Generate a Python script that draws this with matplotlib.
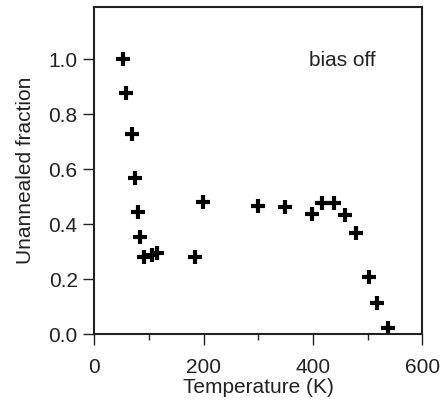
import matplotlib
matplotlib.use("Agg")
import matplotlib.pyplot as plt
from matplotlib.ticker import MultipleLocator

temperature = [53, 58, 69, 74, 79, 84, 90, 105, 114, 184, 199, 299, 349, 399, 416, 438, 459, 479, 503, 518, 538]
fraction = [1.0, 0.876, 0.728, 0.570, 0.445, 0.355, 0.282, 0.290, 0.297, 0.282, 0.48, 0.467, 0.464, 0.436, 0.477, 0.477, 0.434, 0.367, 0.207, 0.115, 0.022]

plt.rcParams['font.family'] = ['Liberation Sans', 'DejaVu Sans']

fig = plt.figure(figsize=(4.43, 4.03), dpi=100)
ax = fig.add_axes([0.213, 0.1705, 0.740, 0.812])

ax.plot(temperature, fraction, linestyle='none', marker='+', markersize=10,
        markeredgewidth=3.0, color='black')

ax.set_xlim(0, 600)
ax.set_ylim(0, 1.19)
ax.xaxis.set_major_locator(MultipleLocator(200))
ax.xaxis.set_minor_locator(MultipleLocator(100))
ax.yaxis.set_major_locator(MultipleLocator(0.2))
ax.yaxis.set_major_formatter(matplotlib.ticker.FormatStrFormatter('%.1f'))

for s in ax.spines.values():
    s.set_linewidth(1.5)
    s.set_color('#222222')

ax.tick_params(which='major', direction='out', length=8, width=1.0, labelsize=15,
               colors='#222222', labelcolor='#222222')
ax.tick_params(axis='x', which='major', pad=9)
ax.tick_params(axis='y', which='major', pad=4)
ax.tick_params(which='minor', direction='out', length=4.3, width=1.0, colors='#222222')

ax.set_xlabel('Temperature (K)', fontsize=15, color='#222222', labelpad=1)
ax.set_ylabel('Unannealed fraction', fontsize=15, color='#222222', labelpad=10)

ax.text(393, 0.994, 'bias off', fontsize=15, color='#222222', ha='left', va='center')

fig.savefig('out.png', dpi=100)
